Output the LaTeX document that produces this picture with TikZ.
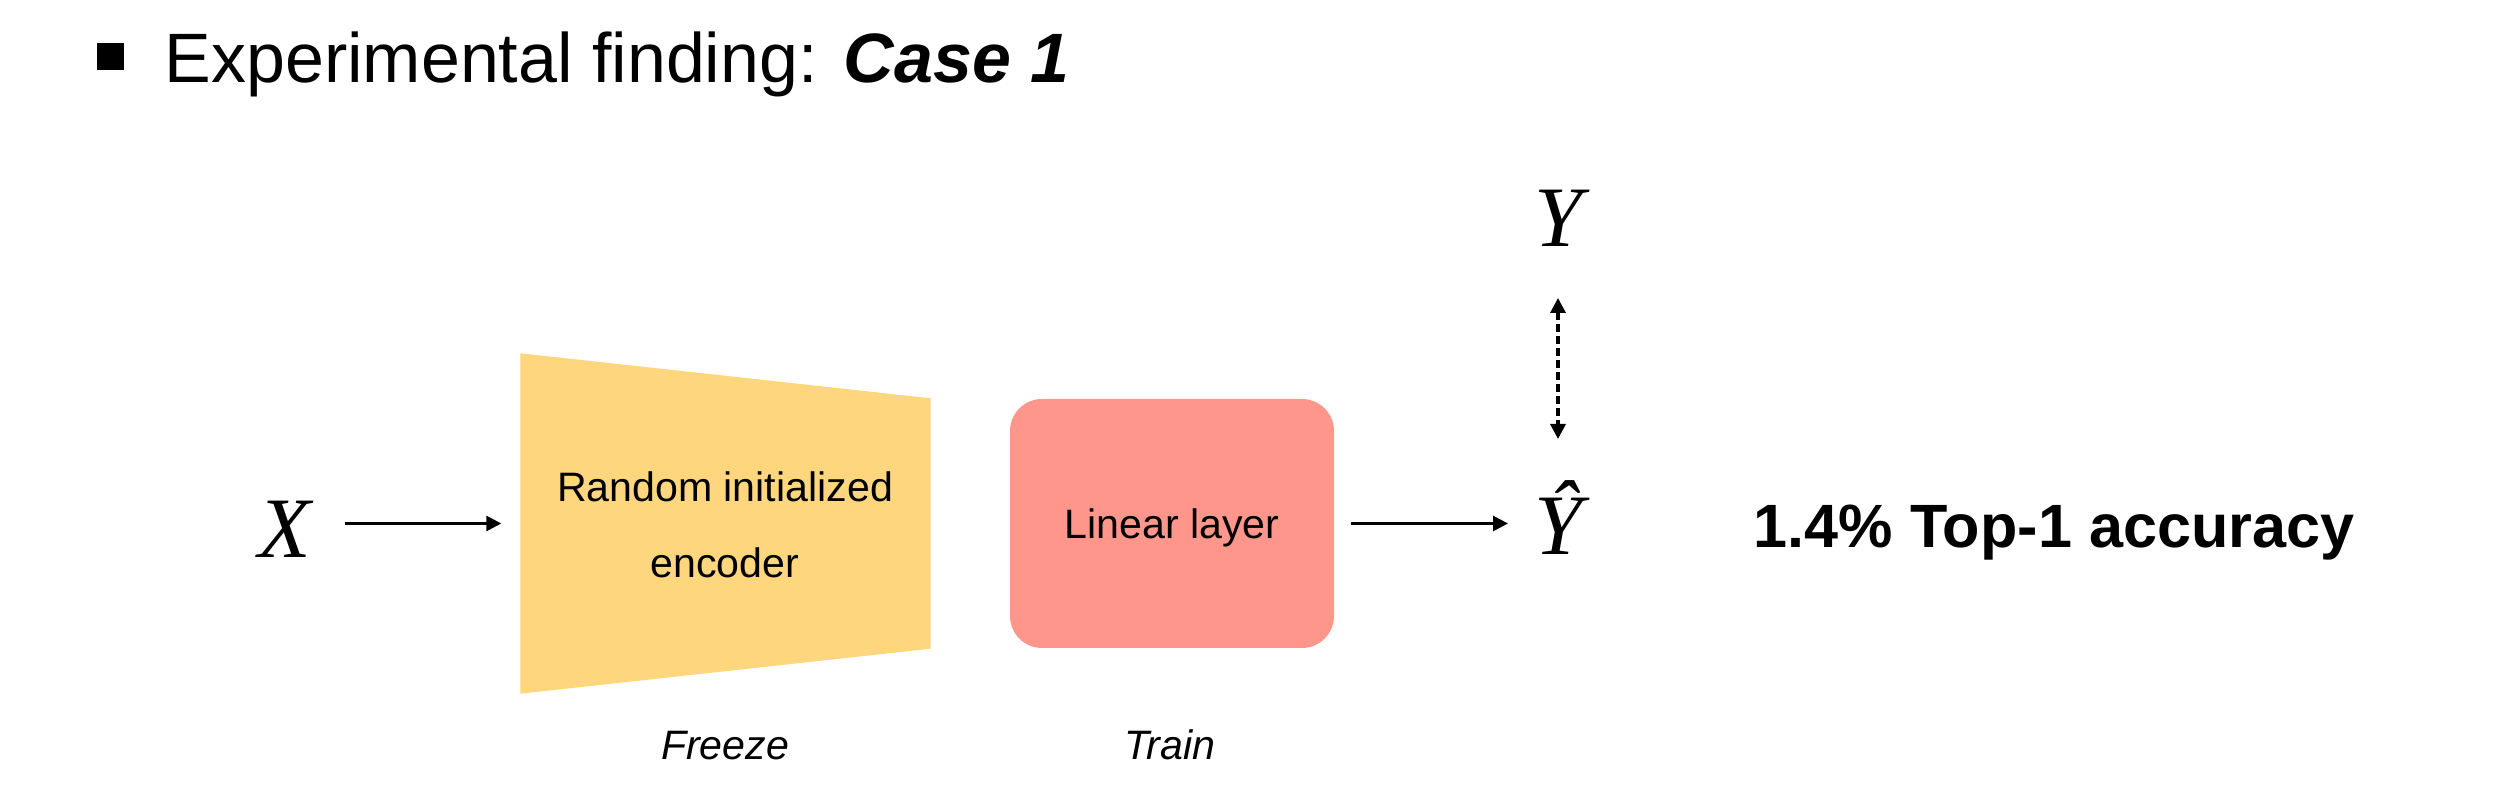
\documentclass[tikz,border=0pt]{standalone}
\usepackage{fontspec}
\setmainfont{Liberation Sans}
\newfontfamily\varfont{Liberation Serif}
\usetikzlibrary{arrows.meta}
\definecolor{encyellow}{RGB}{253,214,125}
\definecolor{linred}{RGB}{254,150,140}
\newcommand\lblfont{\fontsize{11.7}{21.8}\selectfont}

\begin{document}
\begin{tikzpicture}[
  lbl/.style={inner sep=0pt, font=\lblfont},
  var/.style={inner sep=0pt, font=\varfont\itshape\fontsize{24.5}{28}\selectfont},
  arr/.style={line width=0.028cm, -{Triangle[length=0.15cm,width=0.15cm]}},
  dotarr/.style={line width=0.033cm, dash pattern=on 0.075cm off 0.045cm,
    {Triangle[length=0.15cm,width=0.15cm]}-{Triangle[length=0.15cm,width=0.15cm]}}]
\useasboundingbox (0,0) rectangle (25.14,8.06);
% title line
\node[fill=black, minimum size=0.27cm, inner sep=0pt] (bullet) at (1.10,7.49) {};
\node[anchor=base west, inner sep=0pt, font=\fontsize{19.9}{24}\selectfont] (title) at (1.64,7.23) {Experimental finding: \textbf{\textit{Case 1}}};
% encoder
\node[var] (X) at (2.85,2.77) {X};
\node[minimum width=4.09cm, minimum height=3.39cm, inner sep=0pt] (enc) at (7.255,2.825) {};
\fill[encyellow] (enc.north west) -- ([yshift=-0.45cm]enc.north east) -- ([yshift=0.45cm]enc.south east) -- (enc.south west) -- cycle;
\node[lbl, align=center] (enctxt) at (7.25,2.81) {Random initialized\\encoder};
% linear layer
\node[lbl, fill=linred, rounded corners=0.32cm, minimum width=3.24cm, minimum height=2.49cm] (lin) at (11.72,2.825) {};
\node[lbl] (lintxt) at (11.72,2.78) {Linear layer};
\node[var, anchor=base] (Yhat) at (15.58,2.51) {Ŷ};
\node[var, anchor=base] (Y) at (15.58,5.59) {Y};
\node[anchor=base, inner sep=0pt, font=\bfseries\fontsize{17.4}{21}\selectfont] (acc) at (20.54,2.58) {1.4\% Top-1 accuracy};
\node[lbl, anchor=base, font=\lblfont\itshape] (freeze) at (7.25,0.46) {Freeze};
\node[lbl, anchor=base, font=\lblfont\itshape] (train) at (11.70,0.46) {Train};
% connectors
\draw[arr] ([xshift=0.6cm]X.center |- enc.west) -- ([xshift=-0.19cm]enc.west);
\draw[arr] ([xshift=0.16cm]lin.east) -- ([xshift=-0.5cm]Yhat.center |- lin.east);
\draw[dotarr] ([yshift=-0.51cm]Y.base) -- ([yshift=1.16cm]Yhat.base);
\end{tikzpicture}
\end{document}
